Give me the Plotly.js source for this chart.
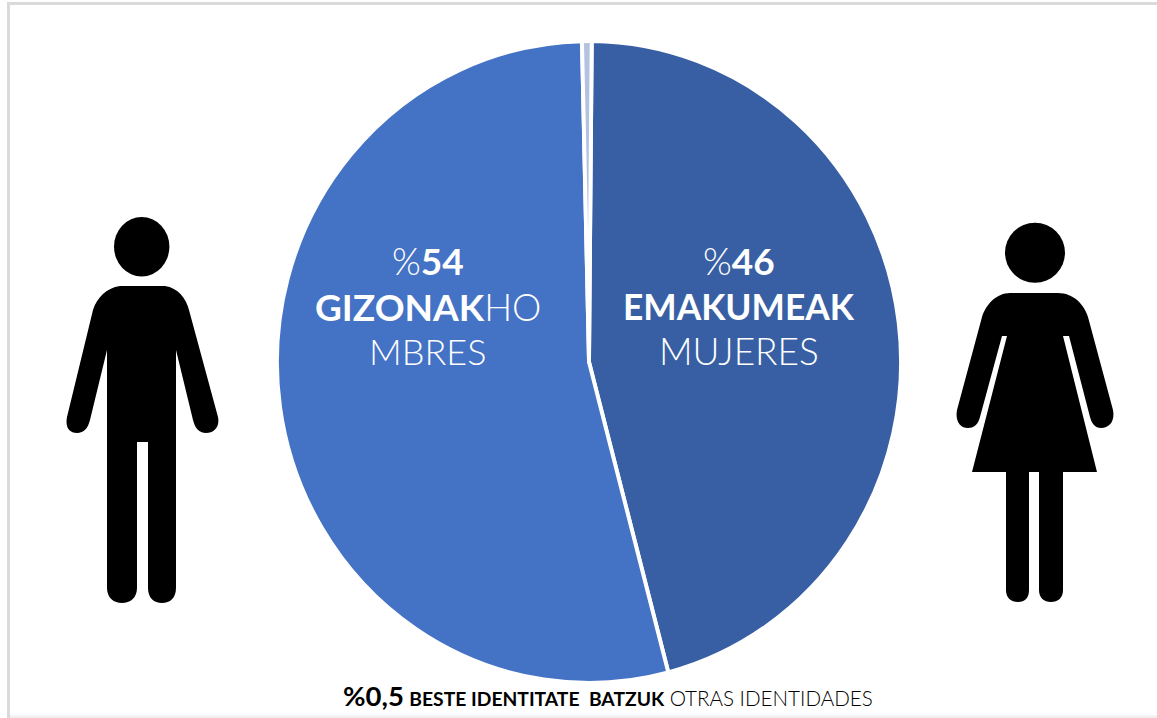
<!DOCTYPE html>
<html>
<head>
<meta charset="utf-8">
<script src="https://cdn.plot.ly/plotly-3.0.1.min.js"></script>
<style>
html,body{margin:0;padding:0;background:#fff;overflow:hidden}
#chart{width:1157px;height:718px}
.pielayer{transform-origin:589px 362px;transform:scale(0.986,1.014)}
</style>
</head>
<body>
<div id="chart"></div>
<script>
var categories = ["EMAKUMEAK MUJERES", "GIZONAK HOMBRES", "BESTE IDENTITATE BATZUK OTRAS IDENTIDADES"];
var values = [46, 54, 0.5];
var sliceColors = ["#385FA3", "#4472C4", "#B4C2E2"];

var manLabel = ["%<b>54</b>", "<b>GIZONAK</b>HO", "MBRES"];
var womanLabel = ["%<b>46</b>", "<b>EMAKUMEAK</b>", "MUJERES"];
var otherLabel = '<span style="font-size:27.5px"><b>%0,5</b></span> <span style="font-size:19.3px"><b>BESTE IDENTITATE  BATZUK</b></span> <span style="font-size:20.6px">OTRAS IDENTIDADES</span>';

var W = 1157, H = 718;
var font = "Lato, 'Open Sans', sans-serif";

function px(x){ return x / W; }
function py(y){ return 1 - y / H; }
function toPaper(path){
  return path.replace(/(-?[\d.]+),(-?[\d.]+)/g, function(m, x, y){
    return px(+x).toFixed(5) + "," + py(+y).toFixed(5);
  });
}
function icon(path){
  return {type:"path", xref:"paper", yref:"paper", path:toPaper(path), fillcolor:"#000", line:{width:0}, layer:"above"};
}
function head(cx, cy, rx, ry){
  return {type:"circle", xref:"paper", yref:"paper", x0:px(cx-rx), x1:px(cx+rx), y0:py(cy+ry), y1:py(cy-ry), fillcolor:"#000", line:{width:0}, layer:"above"};
}
function rule(x0, y0, x1, y1, color){
  return {type:"line", xref:"paper", yref:"paper", x0:px(x0), y0:py(y0), x1:px(x1), y1:py(y1), line:{color:color, width:3}, layer:"below"};
}

var manBody = "M120,286 L165,286 C178,288 186,298 189,310 L218,417 C220,427 214,433 206,433 C199,433 195,428 193,420 L176,350 L176,588 C176,598 170,603 162,603 C154,603 148,598 148,588 L148,442 L137,442 L137,588 C137,598 130,603 122,603 C114,603 107,598 107,588 L107,350 L90,420 C88,428 84,433 77,433 C69,433 65,427 67,417 L93,310 C97,298 106,288 120,286 Z";
var womanBody = "M1010,293 L1058,293 C1073,293 1084,304 1088,317 L1113,410 C1115,421 1110,428 1101,428 C1095,428 1092,424 1090,417 L1069,336 L1063,336 L1097,472 L1063,472 L1063,590 C1063,598 1058,602 1051,602 C1044,602 1039,598 1039,590 L1039,472 L1029,472 L1029,590 C1029,598 1025,602 1018,602 C1011,602 1006,598 1006,590 L1006,472 L972,472 L1007,336 L1002,336 L980,417 C978,424 975,428 968,428 C960,428 955,421 957,410 L982,317 C986,304 997,293 1010,293 Z";

var R = 316.5, CX = 589, CY = 362;

var data = [{
  type: "pie",
  labels: categories,
  values: values,
  sort: false,
  direction: "clockwise",
  rotation: 0.5,
  textinfo: "none",
  marker: {colors: sliceColors, line: {color: "#fff", width: 4}},
  domain: {x: [px(CX - R), px(CX + R)], y: [py(CY + R), py(CY - R)]},
  showlegend: false
}];

function lineNote(text, x, y, size){
  return {xref:"paper", yref:"paper", x:px(x), y:py(y), xanchor:"center", yanchor:"middle", showarrow:false, text:text,
          font:{family:font, size:size, color:"#fff", weight:300}};
}
var lineY = [260, 306, 351];
var manSizes = [37, 37, 36];
var womanSizes = [37, 35.3, 37];
var notes = [];
lineY.forEach(function(y, i){
  notes.push(lineNote(manLabel[i], 427.5, y, manSizes[i]));
  notes.push(lineNote(womanLabel[i], 739.2, y, womanSizes[i]));
});
notes.push({xref:"paper", yref:"paper", x:px(607.5), y:py(695), xanchor:"center", yanchor:"middle", showarrow:false, text:otherLabel,
            font:{family:font, size:20, color:"#000", weight:300}});

var shapes = [
  rule(8.5, 717, 1157, 717, "#EFEFEF"),
  rule(8.5, 2, 8.5, 718, "#DADADA"),
  rule(7, 3.5, 1157, 3.5, "#DADADA"),
  head(141.7, 246.7, 27.7, 29.7), icon(manBody),
  head(1035, 252.7, 30, 30), icon(womanBody)
];

Plotly.newPlot("chart", data, {
  width: W, height: H,
  margin: {l:0, r:0, t:0, b:0, pad:0},
  paper_bgcolor: "#fff",
  shapes: shapes,
  annotations: notes
}, {displayModeBar:false, staticPlot:true});
</script>
</body>
</html>
